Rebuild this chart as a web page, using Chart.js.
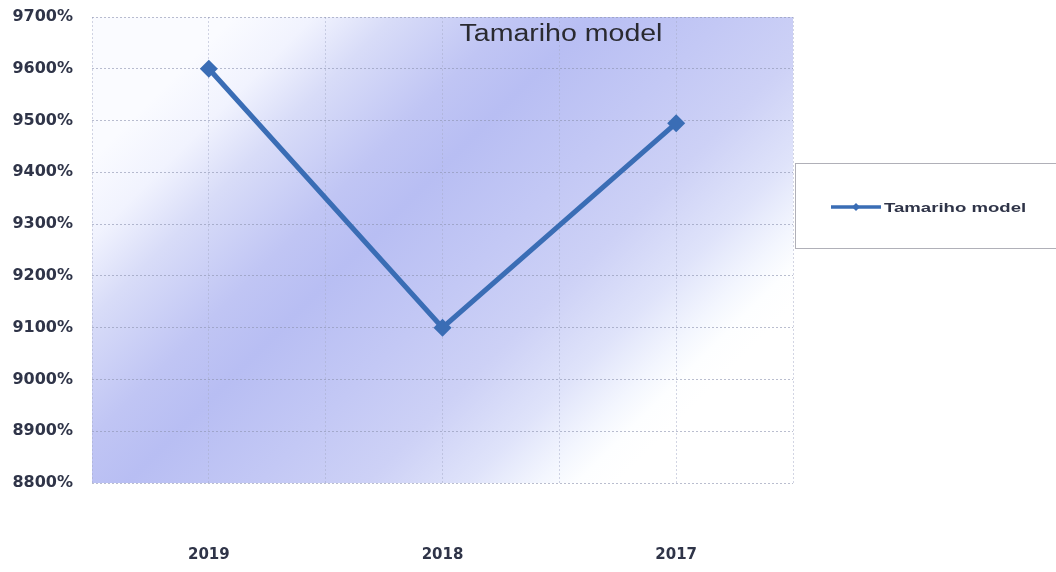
<!DOCTYPE html>
<html>
<head>
<meta charset="utf-8">
<script src="https://cdn.jsdelivr.net/npm/chart.js@4"></script>
<style>
  html, body { margin: 0; padding: 0; background: #ffffff; }
  #wrap { width: 1056px; height: 572px; }
</style>
</head>
<body>
<div id="wrap"><canvas id="c" width="1056" height="572"></canvas></div>
<script>
const categories = ['2019', '2018', '2017'];
const seriesName = 'Tamariho model';
const seriesValues = [9600, 9100, 9495];
const chartTitle = 'Tamariho model';
const yMin = 8800;
const yMax = 9700;
const yStep = 100;

const FONT = '"Liberation Sans", Arial, sans-serif';
const TICK_FONT = '"DejaVu Sans", "Liberation Sans", sans-serif';
const LINE_COLOR = '#3a6db5';
const TEXT_COLOR = '#2f3448';

function stretchedText(ctx, text, x, y, sx, align) {
  ctx.save();
  ctx.translate(x, y);
  ctx.scale(sx, 1);
  ctx.textAlign = align;
  ctx.fillText(text, 0, 0);
  ctx.restore();
}

const bgPlugin = {
  id: 'bgPlugin',
  beforeDraw(chart) {
    const { ctx, chartArea: a } = chart;
    ctx.save();
    const t0 = 250, t1 = 1100;
    const g = ctx.createLinearGradient(t0 / 2, t0 / 2, t1 / 2, t1 / 2);
    const stop = (t, c) => g.addColorStop((t - t0) / (t1 - t0), c);
    stop(250, '#fafbff');
    stop(330, '#f1f3fe');
    stop(410, '#d8dcf8');
    stop(530, '#c0c5f4');
    stop(610, '#b8bef3');
    stop(740, '#c3c8f5');
    stop(850, '#cdd1f6');
    stop(950, '#dfe3fa');
    stop(1020, '#f3f6fe');
    stop(1060, '#fdfeff');
    stop(1100, '#ffffff');
    ctx.fillStyle = g;
    ctx.fillRect(a.left, a.top, a.right - a.left, a.bottom - a.top);
    ctx.restore();
  },
  afterDraw(chart) {
    const { ctx } = chart;
    ctx.save();
    ctx.font = '23px ' + FONT;
    ctx.fillStyle = '#2a2a30';
    ctx.textBaseline = 'middle';
    stretchedText(ctx, chartTitle, 561, 35, 1.24, 'center');
    const bx = 795.5, by = 163.5, bw = 270, bh = 85;
    ctx.fillStyle = '#ffffff';
    ctx.fillRect(bx, by, bw, bh);
    ctx.strokeStyle = '#b0b0b8';
    ctx.lineWidth = 1;
    ctx.strokeRect(bx, by, bw, bh);
    const ds = chart.data.datasets[0];
    const ly = 207;
    ctx.strokeStyle = ds.borderColor;
    ctx.lineWidth = 3.5;
    ctx.beginPath();
    ctx.moveTo(831, ly);
    ctx.lineTo(881, ly);
    ctx.stroke();
    ctx.fillStyle = ds.borderColor;
    ctx.beginPath();
    ctx.moveTo(856, ly - 4);
    ctx.lineTo(860, ly);
    ctx.lineTo(856, ly + 4);
    ctx.lineTo(852, ly);
    ctx.closePath();
    ctx.fill();
    ctx.font = 'bold 13px ' + FONT;
    ctx.fillStyle = TEXT_COLOR;
    ctx.textBaseline = 'middle';
    stretchedText(ctx, ds.label, 884, ly + 1, 1.43, 'left');
    ctx.restore();
  }
};

new Chart(document.getElementById('c'), {
  type: 'line',
  data: {
    labels: categories,
    datasets: [{
      label: seriesName,
      data: seriesValues,
      borderColor: LINE_COLOR,
      backgroundColor: LINE_COLOR,
      borderWidth: 5,
      tension: 0,
      pointStyle: 'rectRot',
      pointRadius: 9,
      pointHoverRadius: 9,
      pointBackgroundColor: LINE_COLOR,
      pointBorderColor: LINE_COLOR,
      pointBorderWidth: 0,
      xAxisID: 'x',
      yAxisID: 'y'
    }]
  },
  options: {
    responsive: false,
    animation: false,
    devicePixelRatio: 1,
    layout: { padding: { top: 17, right: 263, left: 0, bottom: 0 } },
    plugins: {
      legend: { display: false },
      title: { display: false },
      tooltip: { enabled: false }
    },
    scales: {
      x: {
        type: 'category',
        offset: true,
        position: 'bottom',
        grid: { display: false, drawTicks: false },
        border: { display: false },
        ticks: {
          padding: 63,
          font: { family: TICK_FONT, size: 15, weight: 'bold' },
          color: TEXT_COLOR
        },
        afterFit(s) { s.height = 89; s.paddingLeft = 0; s.paddingRight = 0; }
      },
      x2: {
        type: 'linear',
        position: 'bottom',
        min: 0,
        max: 6,
        ticks: { display: false, stepSize: 1 },
        grid: {
          color: 'rgba(165,172,200,0.5)',
          lineWidth: 1,
          drawTicks: false
        },
        border: { display: false, dash: [2, 2] },
        afterFit(s) { s.height = 0; s.paddingLeft = 0; s.paddingRight = 0; }
      },
      y: {
        min: yMin,
        max: yMax,
        ticks: {
          stepSize: yStep,
          padding: 19,
          font: { family: TICK_FONT, size: 16, weight: 'bold' },
          color: TEXT_COLOR,
          callback: v => v + '%'
        },
        grid: {
          color: 'rgba(140,146,175,0.6)',
          lineWidth: 1,
          drawTicks: false
        },
        border: { display: false, dash: [2, 2] },
        afterFit(s) { s.width = 92; s.paddingTop = 0; s.paddingBottom = 0; }
      }
    }
  },
  plugins: [bgPlugin]
});
</script>
</body>
</html>
